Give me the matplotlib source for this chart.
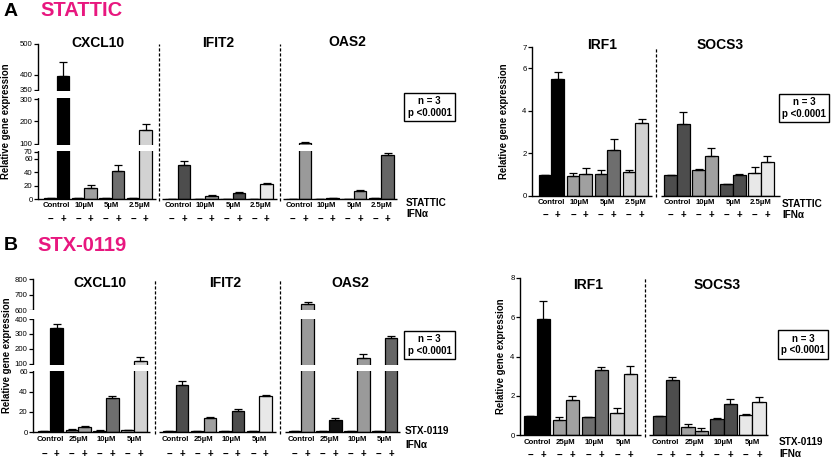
import numpy as np
import matplotlib
matplotlib.use("Agg")
import matplotlib.pyplot as plt

plt.rcParams['font.family'] = ['Liberation Sans', 'DejaVu Sans']

W, H = 835, 461

# doses (one pair of bars per dose: - / + IFNa)
a_doses = ["Control", "10µM", "5µM", "2.5µM"]
b_doses = ["Control", "25µM", "10µM", "5µM"]
signs = ["−", "+"] * 4

# panel A (STATTIC), values interleaved: dose1-, dose1+, dose2-, ...
a_cxcl10 = [1.0, 395, 1.0, 16.5, 1.0, 42, 1.0, 160]
a_cxcl10_err = [0.2, 45, 0.2, 4, 0.2, 8, 0.3, 28]
a_ifit2 = [0.6, 50.5, 0.4, 5, 0.5, 8.5, 0.6, 22]
a_ifit2_err = [0.1, 6, 0.1, 1, 0.1, 1.5, 0.1, 1.5]
a_oas2 = [0.6, 105, 0.4, 0.8, 0.5, 11.5, 1.5, 65]
a_oas2_err = [0.1, 3, 0.1, 0.1, 0.1, 1.5, 0.2, 3]
a_irf1 = [1.0, 5.52, 0.95, 1.03, 1.05, 2.14, 1.11, 3.44]
a_irf1_err = [0, 0.3, 0.14, 0.27, 0.18, 0.54, 0.11, 0.19]
a_socs3 = [0.99, 3.4, 1.22, 1.88, 0.58, 1.0, 1.06, 1.6]
a_socs3_err = [0, 0.56, 0.03, 0.36, 0, 0.02, 0.29, 0.28]

# panel B (STX-0119)
b_cxcl10 = [1.0, 340, 2.2, 4.8, 1.3, 34, 1.5, 118]
b_cxcl10_err = [0.2, 25, 0.3, 1, 0.2, 1.5, 0.2, 25]
b_ifit2 = [0.5, 47, 0.5, 13.5, 0.5, 21, 0.5, 35.5]
b_ifit2_err = [0.1, 4, 0.1, 1, 0.1, 2, 0.1, 1.5]
b_oas2 = [0.6, 638, 0.5, 12, 0.5, 135, 0.5, 270]
b_oas2_err = [0.1, 15, 0.1, 1.5, 0.1, 28, 0.1, 18]
b_irf1 = [0.97, 5.93, 0.77, 1.76, 0.91, 3.32, 1.11, 3.11]
b_irf1_err = [0, 0.91, 0.17, 0.21, 0.03, 0.13, 0.29, 0.43]
b_socs3 = [0.97, 2.78, 0.39, 0.22, 0.79, 1.59, 1.03, 1.69]
b_socs3_err = [0, 0.18, 0.17, 0.14, 0.06, 0.22, 0.06, 0.26]

# bar colours per dose
col_cxcl10 = ["#000000", "#a0a0a0", "#6e6e6e", "#d2d2d2"]
col_ifit2 = ["#4d4d4d", "#a0a0a0", "#4d4d4d", "#e8e8e8"]
col_oas2 = ["#9a9a9a", "#111111", "#9a9a9a", "#666666"]

MAGENTA = "#e8177f"
PAIR = 2.2

fig = plt.figure(figsize=(W / 100, H / 100), dpi=100)


def broken_scale(data_knots, virt_knots):
    fwd = lambda v: np.interp(v, data_knots, virt_knots)
    inv = lambda v: np.interp(v, virt_knots, data_knots)
    return fwd, inv


def panel(rect, xlim, gstep, genes, doses, ylim, yticks, lab_pad, sign_pad,
          ylab_x, knots=None, gaps=()):
    x0, y0, x1, y1 = rect
    ax = fig.add_axes([x0 / W, 1 - y1 / H, (x1 - x0) / W, (y1 - y0) / H])
    if knots is not None:
        ax.set_yscale('function', functions=broken_scale(*knots))
    major, minor, minor_lab, major_lab = [], [], [], []
    edges = []
    for g, (vals, errs, cols) in enumerate(genes):
        base = g * gstep
        x = np.array([base + p * PAIR + s for p in range(4) for s in (0, 1)])
        colors = [c for c in cols for _ in (0, 1)]
        ax.bar(x, vals, width=1.0, color=colors, edgecolor='black',
               linewidth=0.9, zorder=2)
        ax.errorbar(x, vals, yerr=[np.zeros(8), errs], fmt='none',
                    ecolor='black', elinewidth=0.9, capsize=2.6,
                    capthick=0.9, zorder=2)
        edges.append((x[0] - 0.5, x[-1] + 0.5))
        major += [base + p * PAIR + 0.5 for p in range(4)]
        major_lab += doses
        minor += list(x)
        minor_lab += signs

    # baselines per group and dashed separators
    for g, (lo, hi) in enumerate(edges):
        left = xlim[0] if g == 0 else lo - 0.3
        right = xlim[1] if g == len(edges) - 1 else hi + 0.3
        ax.hlines(0, left, right, color='black', lw=1.0, zorder=4, clip_on=False)
        if g:
            xd = (edges[g - 1][1] + lo) / 2
            ax.axvline(xd, ymin=-0.01, ymax=1, color='black', lw=0.9,
                       ls=(0, (2.5, 1.5)), zorder=5, clip_on=False)

    for lo, hi in gaps:
        ax.axhspan(lo, hi, xmin=-0.015, xmax=1, color='white', lw=0,
                   zorder=3, clip_on=False)

    ax.set_xlim(*xlim)
    ax.set_ylim(*ylim)
    ax.set_yticks(yticks)
    ax.set_yticklabels([str(t) for t in yticks])
    ax.yaxis.set_minor_locator(plt.NullLocator())
    ax.set_xticks(major)
    ax.set_xticklabels(major_lab, fontsize=5.6, fontweight='bold')
    ax.set_xticks(minor, minor=True)
    ax.set_xticklabels(minor_lab, minor=True, fontsize=7, fontweight='bold')
    ax.tick_params(axis='x', which='major', length=0, pad=lab_pad)
    ax.tick_params(axis='x', which='minor', length=0, pad=sign_pad)
    ax.tick_params(axis='y', direction='out', length=2.8, width=0.9,
                   labelsize=5.6, pad=1)
    for s in ('top', 'right', 'bottom'):
        ax.spines[s].set_visible(False)
    ax.spines['left'].set_linewidth(1.0)
    ax.set_ylabel("Relative gene expression", fontsize=6.9, fontweight='bold')
    ax.yaxis.set_label_coords((ylab_x - x0) / (x1 - x0), 0.5)
    ax.patch.set_alpha(0)
    return ax


# ---- panel A ----
panel((38, 44, 397, 199), (-1.0, 27.7), 9.68,
      [(a_cxcl10, a_cxcl10_err, col_cxcl10),
       (a_ifit2, a_ifit2_err, col_ifit2),
       (a_oas2, a_oas2_err, col_oas2)],
      a_doses, (0, 500), [0, 20, 40, 60, 70, 100, 200, 300, 350, 400, 500],
      2.2, 10.5, 11,
      knots=([0, 70, 100, 300, 350, 500], [0, 47, 55, 100, 109, 155]),
      gaps=[(72, 97), (304, 346)])

panel((532, 47, 780, 196), (-1.03, 18.5), 9.9,
      [(a_irf1, a_irf1_err, col_cxcl10),
       (a_socs3, a_socs3_err, col_ifit2)],
      a_doses, (0, 7), [0, 2, 4, 6, 7], 2.2, 9.8, 509)

# ---- panel B ----
panel((33, 279, 400, 432), (-0.87, 28.1), 9.9,
      [(b_cxcl10, b_cxcl10_err, col_cxcl10),
       (b_ifit2, b_ifit2_err, col_ifit2),
       (b_oas2, b_oas2_err, col_oas2)],
      b_doses, (0, 800), [0, 20, 40, 60, 100, 200, 300, 400, 600, 700, 800],
      2.8, 12.0, 12,
      knots=([0, 60, 100, 400, 600, 800], [0, 60.3, 68.3, 113, 122, 153]),
      gaps=[(62, 96), (410, 590)])

panel((520, 278, 768, 435), (-0.78, 18.08), 9.8,
      [(b_irf1, b_irf1_err, col_cxcl10),
       (b_socs3, b_socs3_err, col_ifit2)],
      b_doses, (0, 8), [0, 2, 4, 6, 8], 3.2, 10.5, 506)


def ftext(x, y, s, **kw):
    fig.text(x / W, 1 - y / H, s, **kw)


# panel letters and drug names
ftext(4, 12, "A", fontsize=14, fontweight='bold', va='center')
ftext(40, 11, "STATTIC", fontsize=14.5, fontweight='bold', color=MAGENTA, va='center')
ftext(4, 245, "B", fontsize=14, fontweight='bold', va='center')
ftext(37, 245, "STX-0119", fontsize=14.5, fontweight='bold', color=MAGENTA, va='center')

# gene titles
for x, y, s in [(98, 43, "CXCL10"), (218, 43, "IFIT2"), (347, 42, "OAS2"),
                (602, 45, "IRF1"), (720, 45, "SOCS3"),
                (100, 283, "CXCL10"), (225, 283, "IFIT2"), (350, 283, "OAS2"),
                (588, 285, "IRF1"), (717, 285, "SOCS3")]:
    ftext(x, y, s, fontsize=10, fontweight='bold', ha='center', va='center')

# treatment labels on the right
for x, y1, y2, drug in [(406, 203, 214, "STATTIC"), (782, 204, 215, "STATTIC"),
                        (405, 431, 445, "STX-0119"), (779, 442, 454, "STX-0119")]:
    ftext(x, y1, drug, fontsize=7.2, fontweight='bold', va='center')
    ftext(x, y2, "IFNα", fontsize=7.2, fontweight='bold', va='center')

# statistics boxes
for x, y in [(429.5, 107), (804, 108), (429.5, 345), (803, 344.5)]:
    ftext(x, y, "n = 3\np <0.0001", fontsize=7, fontweight='bold', ha='center',
          va='center', ma='center', linespacing=1.15,
          bbox=dict(boxstyle='square,pad=0.35', fc='white', ec='black', lw=1.0))

fig.savefig("out.png", dpi=100)
